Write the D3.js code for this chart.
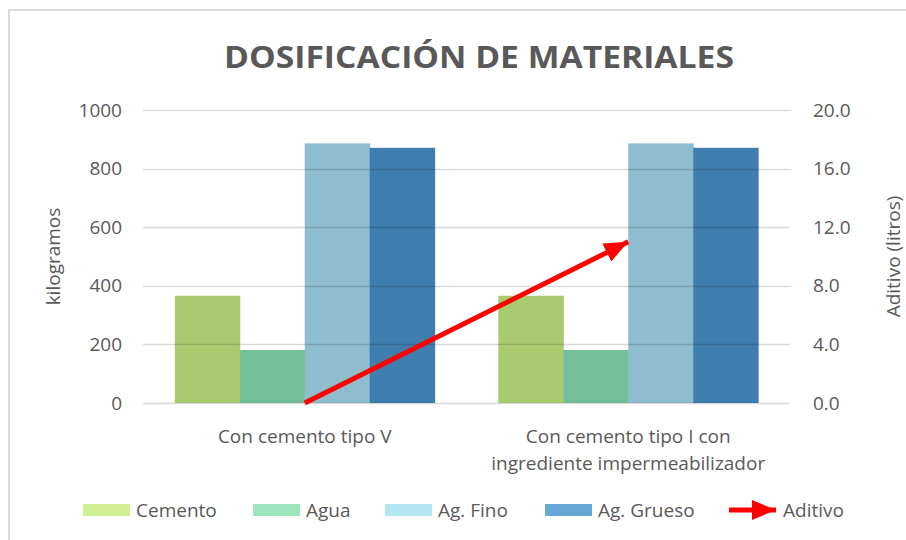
<!DOCTYPE html>
<html>
<head>
<meta charset="utf-8">
<script src="https://cdn.jsdelivr.net/npm/d3@7"></script>
<style>
  body{margin:0;background:#fff;}
  text{font-family:"Open Sans",sans-serif;fill:#595959;}
</style>
</head>
<body>
<div id="chart"></div>
<script>
//datos
var categorias=["Con cemento tipo V","Con cemento tipo I con|ingrediente impermeabilizador"];
var series=["Cemento","Agua","Ag. Fino","Ag. Grueso"];
var cemento=[366,366];
var agua=[181,181];
var agFino=[886,886];
var agGrueso=[871,871];
var aditivo=[0,11];
var ticksIzq=[0,200,400,600,800,1000];
var ticksDer=[0,4,8,12,16,20];

var colorBarra=["#A9CB70","#74BF97","#8DBDCE","#3F7EAE"];
var colorLeyenda=["#CFEF90","#9EE5BE","#B4E5F2","#67A7D6"];

var width=906,height=540;
var margin={left:143,right:116,top:110,bottom:137};
var plotW=width-margin.left-margin.right;
var plotH=height-margin.top-margin.bottom;

var svg=d3.select("#chart").append("svg")
    .attr("width",width)
    .attr("height",height);

//borde
svg.append("rect")
    .attr("x",9).attr("y",10)
    .attr("width",width+10).attr("height",height+10)
    .attr("fill","none")
    .attr("stroke","#D9D9D9")
    .attr("stroke-width",2);

//titulo
var titulo=svg.append("text")
    .attr("x",479).attr("y",68)
    .attr("text-anchor","middle")
    .style("font-weight","bold")
    .style("font-size","31px")
    .text("DOSIFICACIÓN DE MATERIALES");
titulo.attr("textLength",510).attr("lengthAdjust","spacingAndGlyphs");

var g=svg.append("g").attr("transform","translate("+margin.left+","+margin.top+")");

var x0=d3.scaleBand().domain(categorias).range([0,plotW]);
var x1=d3.scaleBand().domain(series).range([0,x0.bandwidth()]).paddingOuter(0.49).paddingInner(0);
var y=d3.scaleLinear().domain([0,1000]).range([plotH,0]);
var y2=d3.scaleLinear().domain([0,20]).range([plotH,0]);

//barras
var datos=[cemento,agua,agFino,agGrueso];
categorias.forEach(function (c,i) {
    series.forEach(function (s,j) {
        g.append("rect")
            .attr("x",x0(c)+x1(s))
            .attr("y",y(datos[j][i]))
            .attr("width",x1.bandwidth()+0.5)
            .attr("height",plotH-y(datos[j][i]))
            .attr("fill",colorBarra[j]);
    });
});

//lineas de cuadricula
g.append("g")
    .selectAll("line")
    .data(ticksIzq)
    .enter().append("line")
    .attr("x1",0).attr("x2",plotW)
    .attr("y1",function (d) {return Math.round(y(d))+0.5;})
    .attr("y2",function (d) {return Math.round(y(d))+0.5;})
    .attr("stroke","#000")
    .attr("stroke-opacity",0.15)
    .attr("stroke-width",1.5);

//ejes
var ejeIzq=d3.axisLeft(y).tickValues(ticksIzq).tickSize(0).tickPadding(21)
    .tickFormat(d3.format("d"));
var gIzq=g.append("g").call(ejeIzq);
gIzq.select(".domain").remove();
gIzq.selectAll("text").style("font-size","19px").style("fill","#595959").style("font-family","Open Sans");

var ejeDer=d3.axisRight(y2).tickValues(ticksDer).tickSize(0).tickPadding(23)
    .tickFormat(d3.format(".1f"));
var gDer=g.append("g").attr("transform","translate("+plotW+",0)").call(ejeDer);
gDer.select(".domain").remove();
gDer.selectAll("text").style("font-size","19px").style("fill","#595959").style("font-family","Open Sans");

//etiquetas de categorias
categorias.forEach(function (c) {
    var lineas=c.split("|");
    var t=g.append("text")
        .attr("text-anchor","middle")
        .attr("x",x0(c)+x0.bandwidth()/2)
        .attr("y",plotH+40)
        .style("font-size","19px");
    lineas.forEach(function (l,k) {
        t.append("tspan")
            .attr("x",x0(c)+x0.bandwidth()/2)
            .attr("dy",k==0?0:27)
            .text(l);
    });
});

//titulos de ejes
svg.append("text")
    .attr("transform","translate(60,"+(margin.top+plotH/2)+") rotate(-90)")
    .attr("text-anchor","middle")
    .style("font-size","19px")
    .text("kilogramos");
svg.append("text")
    .attr("transform","translate(900,"+(margin.top+plotH/2)+") rotate(-90)")
    .attr("text-anchor","middle")
    .style("font-size","19px")
    .text("Aditivo (litros)");

//flecha
var defs=svg.append("defs");
defs.append("marker")
    .attr("id","flecha")
    .attr("markerUnits","userSpaceOnUse")
    .attr("markerWidth",24).attr("markerHeight",20)
    .attr("viewBox","0 0 24 20")
    .attr("refX",24).attr("refY",10)
    .attr("orient","auto")
    .append("path")
    .attr("d","M0,0 L24,10 L0,20 Z")
    .attr("fill","#FF0000");

var linea=d3.line()
    .x(function (d,i) {return x0(categorias[i])+x0.bandwidth()/2;})
    .y(function (d) {return y2(d);});
g.append("path")
    .datum(aditivo)
    .attr("d",linea)
    .attr("fill","none")
    .attr("stroke","#FF0000")
    .attr("stroke-width",5)
    .attr("marker-end","url(#flecha)");

//leyenda
var leyX=[83,253,385,545];
series.forEach(function (s,j) {
    svg.append("rect")
        .attr("x",leyX[j]).attr("y",504)
        .attr("width",47).attr("height",12)
        .attr("fill",colorLeyenda[j]);
    svg.append("text")
        .attr("x",leyX[j]+53).attr("y",517)
        .style("font-size","19px")
        .text(s);
});
svg.append("line")
    .attr("x1",729).attr("y1",510)
    .attr("x2",776).attr("y2",510)
    .attr("stroke","#FF0000")
    .attr("stroke-width",5)
    .attr("marker-end","url(#flecha)");
svg.append("text")
    .attr("x",783).attr("y",517)
    .style("font-size","19px")
    .text("Aditivo");
</script>
</body>
</html>
